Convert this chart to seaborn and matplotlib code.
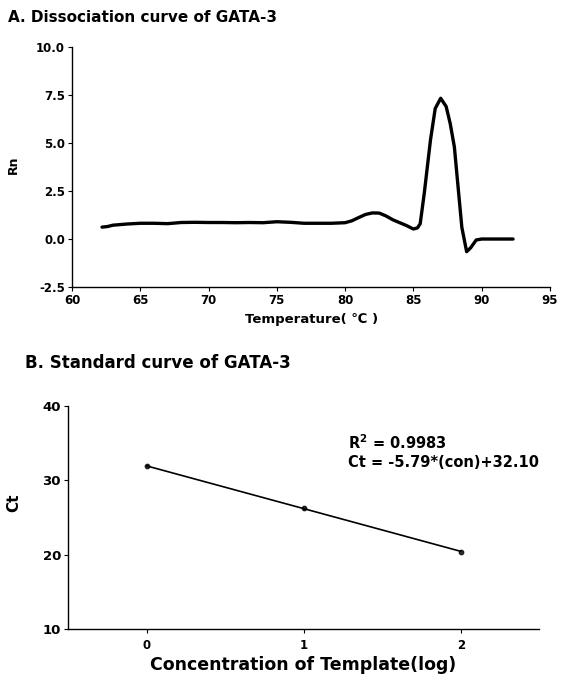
import matplotlib
matplotlib.use("Agg")
import matplotlib.pyplot as plt
import seaborn as sns
import pandas as pd

# Panel A: dissociation (melt) curve
temperature = [62.2, 62.6, 63.0, 64.0, 65.0, 66.0, 67.0, 68.0, 69.0, 70.0, 71.0, 72.0,
               73.0, 74.0, 75.0, 76.0, 77.0, 78.0, 79.0, 80.0, 80.5, 81.0, 81.5, 82.0,
               82.5, 83.0, 83.5, 84.0, 84.5, 85.0, 85.3, 85.5, 85.8, 86.25, 86.6, 87.0,
               87.4, 87.7, 88.0, 88.3, 88.55, 88.9, 89.2, 89.6, 90.0, 91.0, 92.3]
rn = [0.62, 0.65, 0.72, 0.78, 0.82, 0.82, 0.80, 0.86, 0.87, 0.86, 0.86, 0.85,
      0.86, 0.85, 0.90, 0.87, 0.82, 0.82, 0.82, 0.85, 0.95, 1.12, 1.28, 1.36,
      1.35, 1.20, 1.00, 0.85, 0.70, 0.52, 0.58, 0.80, 2.40, 5.15, 6.80, 7.33,
      6.90, 6.00, 4.80, 2.50, 0.60, -0.66, -0.45, -0.05, 0.0, 0.0, 0.0]

# Panel B: standard curve
conc_log = [0, 1, 2]
ct = [31.9, 26.3, 20.4]
r2_text = "R$^{\\mathbf{2}}$ = 0.9983"
eq_text = "Ct = -5.79*(con)+32.10"

sns.set_theme(style="ticks")
plt.rcParams['font.family'] = ['DejaVu Sans']
plt.rcParams['font.weight'] = 'bold'
plt.rcParams['axes.labelweight'] = 'bold'
plt.rcParams['mathtext.default'] = 'bf'
plt.rcParams['text.color'] = 'black'
plt.rcParams['axes.labelcolor'] = 'black'
plt.rcParams['xtick.color'] = 'black'
plt.rcParams['ytick.color'] = 'black'

fig = plt.figure(figsize=(5.61, 6.87), dpi=100)

# ---- A ----
ax1 = fig.add_axes([0.1283, 0.5822, 0.852, 0.3494])
df_a = pd.DataFrame({"Temperature": temperature, "Rn": rn})
sns.lineplot(data=df_a, x="Temperature", y="Rn", ax=ax1, color="black", lw=2.4)
ax1.set_xlim(60, 95)
ax1.set_ylim(-2.5, 10.0)
ax1.set_xticks([60, 65, 70, 75, 80, 85, 90, 95])
ax1.set_yticks([-2.5, 0.0, 2.5, 5.0, 7.5, 10.0])
ax1.set_yticklabels(["-2.5", "0.0", "2.5", "5.0", "7.5", "10.0"])
ax1.set_xlabel("Temperature( \u2103 )", fontsize=9.5, fontweight="bold")
ax1.set_ylabel("Rn", fontsize=9, fontweight="bold")
ax1.xaxis.set_label_coords((312 - 72) / 478, -(313 - 287) / 240)
ax1.yaxis.set_label_coords(-(72 - 20) / 478, (287 - 165) / 240)
ax1.tick_params(labelsize=8.5, length=3, width=0.8, color="black", pad=2)
for s in ["left", "bottom"]:
    ax1.spines[s].set_linewidth(1.0)
    ax1.spines[s].set_color("black")
sns.despine(ax=ax1)
fig.text(8 / 561, 1 - 17 / 687, "A. Dissociation curve of GATA-3", fontsize=11,
         fontweight="bold", va="center", ha="left")

# ---- B ----
ax2 = fig.add_axes([0.1212, 0.0844, 0.84, 0.3246])
df_b = pd.DataFrame({"conc": conc_log, "ct": ct})
sns.regplot(data=df_b, x="conc", y="ct", ax=ax2, ci=None, color="black",
            scatter_kws={"s": 10}, line_kws={"lw": 1.2})
ax2.set_xlim(-0.5, 2.5)
ax2.set_ylim(10, 40)
ax2.set_xticks([0, 1, 2])
ax2.set_yticks([10, 20, 30, 40])
ax2.set_xlabel("Concentration of Template(log)", fontsize=12.5, fontweight="bold")
ax2.set_ylabel("Ct", fontsize=11, fontweight="bold")
ax2.xaxis.set_label_coords(0.5, -(656 - 629) / 223)
ax2.yaxis.set_label_coords(-(68 - 21) / 471, (629 - 503) / 223)
ax2.tick_params(axis="y", labelsize=9.5, length=3, width=0.8, color="black", pad=2)
ax2.tick_params(axis="x", labelsize=8.5, length=3, width=0.8, color="black", pad=4)
for s in ["left", "bottom"]:
    ax2.spines[s].set_linewidth(1.0)
    ax2.spines[s].set_color("black")
sns.despine(ax=ax2)
ax2.text(1.28, 35.1, r2_text, fontsize=10.5, fontweight="bold", va="center", ha="left")
ax2.text(1.28, 32.4, eq_text, fontsize=10.5, fontweight="bold", va="center", ha="left")
fig.text(25 / 561, 1 - 363 / 687, "B. Standard curve of GATA-3", fontsize=12,
         fontweight="bold", va="center", ha="left")

fig.savefig("out.png", dpi=100)
